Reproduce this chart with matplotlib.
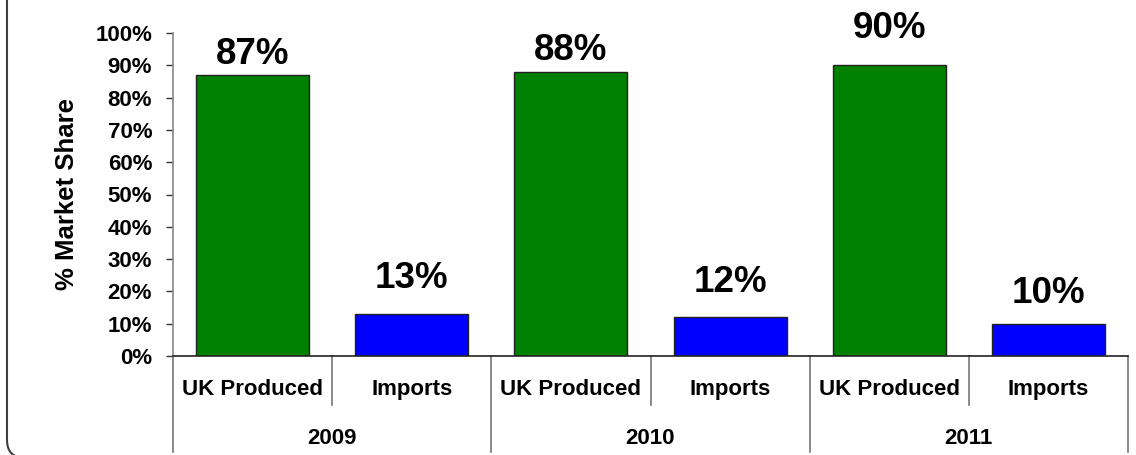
import matplotlib
matplotlib.use("Agg")
import matplotlib.pyplot as plt
from matplotlib.patches import FancyBboxPatch
from matplotlib.transforms import blended_transform_factory

plt.rcParams['font.family'] = ['Liberation Sans', 'DejaVu Sans']

years = ["2009", "2010", "2011"]
categories = ["UK Produced", "Imports"]
values = [87, 13, 88, 12, 90, 10]          # % market share, in order
labels = ["87%", "13%", "88%", "12%", "90%", "10%"]
colors = ["#008000", "#0000FF"] * 3
yticks = list(range(0, 101, 10))

W, H = 1136, 455
fig = plt.figure(figsize=(W / 100, H / 100), dpi=100)
ax = fig.add_axes([173 / W, (H - 356) / H, (1128 - 173) / W, (356 - 33) / H])

n = len(values)
xs = list(range(n))
bars = ax.bar(xs, values, width=0.71, color=colors, edgecolor="#222222", linewidth=1.0, zorder=2)
ax.set_xlim(-0.5, n - 0.5)
ax.set_ylim(0, 100)

# data labels (offsets in pixels above bar top)
offs = [20, 36, 21, 35, 37, 30]
for x, v, lab, o in zip(xs, values, labels, offs):
    ax.annotate(lab, (x, v), xytext=(0, o), textcoords="offset pixels",
                ha="center", va="center", fontsize=26.5, fontweight="bold", color="black")

ax.set_yticks(yticks)
ax.set_yticklabels([f"{t}%" for t in yticks], fontsize=16, fontweight="bold")
ax.tick_params(axis="y", direction="out", length=5, width=1, color="#333333", pad=10)
ax.set_xticks([])

for s in ["top", "right"]:
    ax.spines[s].set_visible(False)
ax.spines["left"].set_color("#888888")
ax.spines["left"].set_linewidth(1.2)
ax.spines["bottom"].set_color("#222222")
ax.spines["bottom"].set_linewidth(1.2)

ax.set_ylabel("% Market Share", fontsize=18.5, fontweight="bold")
ax.yaxis.set_label_coords(-0.098, 0.5)

# category axis
tr = blended_transform_factory(ax.transData, ax.transAxes)
short_y = -(405 - 356) / 323
long_y = -(452 - 356) / 323
for i in range(n):
    ax.text(i, -0.105, categories[i % 2], transform=tr, ha="center", va="center",
            fontsize=16, fontweight="bold")
for j, yr in enumerate(years):
    ax.text(2 * j + 0.5, -0.254, yr, transform=tr, ha="center", va="center",
            fontsize=16, fontweight="bold")
for k in range(n + 1):
    b = k - 0.5
    y1 = long_y if k % 2 == 0 else short_y
    ax.plot([b, b], [0, y1], transform=tr, color="#777777", lw=1.2, clip_on=False)

# rounded frame (partly outside figure)
frame = FancyBboxPatch((7 / W, -3 / H), 2.0, 2.0, boxstyle="round,pad=0,rounding_size=0.016",
                       transform=fig.transFigure, fill=False, edgecolor="#404040", lw=1.5,
                       mutation_aspect=W / H)
fig.patches.append(frame)

fig.savefig("out.png", dpi=100)
